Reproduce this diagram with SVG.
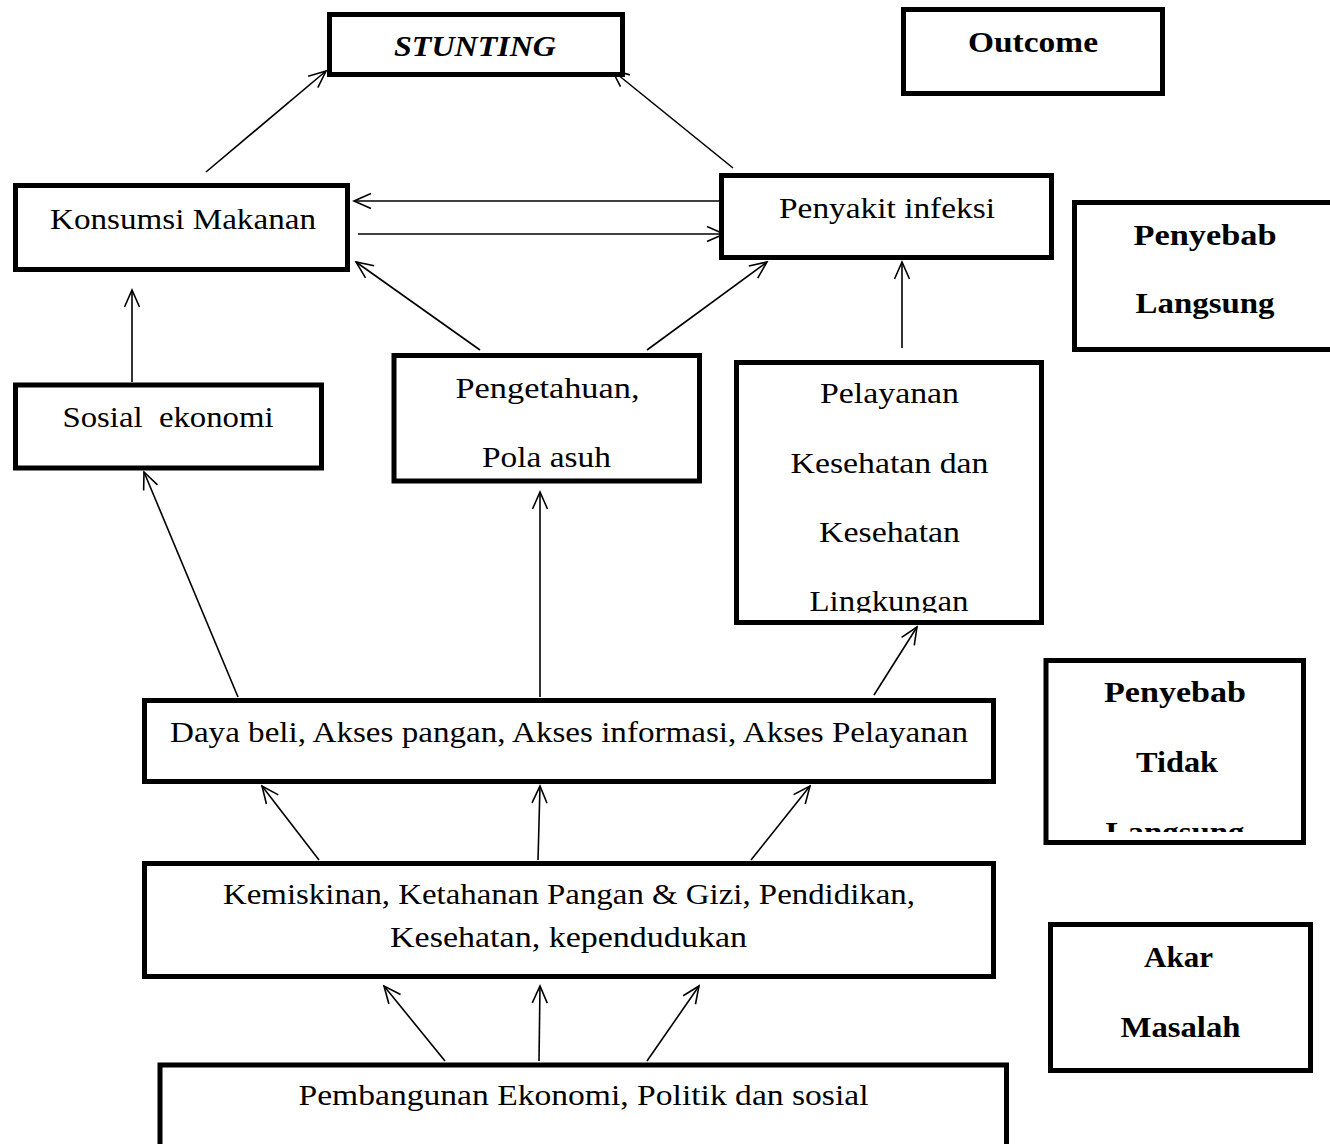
<svg xmlns="http://www.w3.org/2000/svg" width="1330" height="1144" viewBox="0 0 1330 1144">
<style>
.box{fill:#fff;stroke:#000;stroke-width:5}
.t{font-family:"Liberation Serif","Times New Roman",serif;font-size:30px;fill:#000;text-anchor:middle}
.b{font-weight:bold}
.c line{stroke:#000;stroke-width:1.6;fill:none;marker-end:url(#ah)}
</style>
<defs>
<marker id="ah" viewBox="-20 -10 22 20" refX="0" refY="0" markerUnits="userSpaceOnUse" markerWidth="22" markerHeight="20" orient="auto">
<path d="M-17,-7.5 L0,0 L-17,7.5" fill="none" stroke="#000" stroke-width="1.6"/>
</marker>
<clipPath id="clipL"><rect x="736" y="362" width="306" height="250.7"/></clipPath>
<clipPath id="clipT"><rect x="1046" y="660" width="258" height="172"/></clipPath>
</defs>
<rect width="1330" height="1144" fill="#fff"/>

<g class="c" id="connectors">
<line x1="206" y1="172" x2="326" y2="71"/>
<line x1="733" y1="168" x2="612" y2="70"/>
<line x1="720" y1="201" x2="354" y2="201"/>
<line x1="358" y1="234" x2="724" y2="234"/>
<line x1="480" y1="350" x2="356" y2="262"/>
<line x1="647" y1="350" x2="767" y2="262"/>
<line x1="902" y1="348" x2="902" y2="262"/>
<line x1="132" y1="382" x2="132" y2="290"/>
<line x1="238" y1="697" x2="144" y2="472"/>
<line x1="540" y1="697" x2="540" y2="492"/>
<line x1="874" y1="695" x2="917" y2="627"/>
<line x1="319" y1="860" x2="262" y2="786"/>
<line x1="538" y1="860" x2="540" y2="786"/>
<line x1="751" y1="860" x2="810" y2="786"/>
<line x1="445" y1="1061" x2="384" y2="986"/>
<line x1="539" y1="1061" x2="540" y2="986"/>
<line x1="647" y1="1061" x2="699" y2="986"/>
</g>

<g id="stunting">
<rect class="box" x="329.5" y="14.5" width="293" height="60"/>
<text class="t b" x="475" y="56" font-style="italic" font-size="32" textLength="162" lengthAdjust="spacingAndGlyphs">STUNTING</text>
</g>
<g id="outcome">
<rect class="box" x="903.5" y="9.5" width="259" height="84"/>
<text class="t b" x="1033" y="52" textLength="130" lengthAdjust="spacingAndGlyphs">Outcome</text>
</g>
<g id="konsumsi">
<rect class="box" x="15.5" y="185.5" width="332" height="84"/>
<text class="t" x="183" y="229" textLength="266" lengthAdjust="spacingAndGlyphs">Konsumsi Makanan</text>
</g>
<g id="penyakit">
<rect class="box" x="721.5" y="175.5" width="330" height="82"/>
<text class="t" x="887" y="218" textLength="216" lengthAdjust="spacingAndGlyphs">Penyakit infeksi</text>
</g>
<g id="penyebab-langsung">
<rect class="box" x="1074.5" y="202.5" width="270" height="147"/>
<text class="t b" x="1205" y="245" textLength="143" lengthAdjust="spacingAndGlyphs">Penyebab</text>
<text class="t b" x="1205" y="313" textLength="139" lengthAdjust="spacingAndGlyphs">Langsung</text>
</g>
<g id="sosial">
<rect class="box" x="15.5" y="385" width="306" height="83"/>
<text class="t" x="168" y="427" textLength="211" lengthAdjust="spacingAndGlyphs" xml:space="preserve">Sosial  ekonomi</text>
</g>
<g id="pengetahuan">
<rect class="box" x="394" y="355.5" width="305.5" height="125.5"/>
<text class="t" x="547.5" y="398" textLength="184" lengthAdjust="spacingAndGlyphs">Pengetahuan,</text>
<text class="t" x="546.5" y="467" textLength="129" lengthAdjust="spacingAndGlyphs">Pola asuh</text>
</g>
<g id="pelayanan">
<rect class="box" x="736.5" y="362.5" width="305" height="260"/>
<text class="t" x="889.5" y="403" textLength="139" lengthAdjust="spacingAndGlyphs">Pelayanan</text>
<text class="t" x="889.5" y="473" textLength="198" lengthAdjust="spacingAndGlyphs">Kesehatan dan</text>
<text class="t" x="889.5" y="542" textLength="141" lengthAdjust="spacingAndGlyphs">Kesehatan</text>
<text class="t" x="889" y="611" textLength="159" lengthAdjust="spacingAndGlyphs" clip-path="url(#clipL)">Lingkungan</text>
</g>
<g id="penyebab-tidak-langsung">
<rect class="box" x="1046" y="660.5" width="257.5" height="182"/>
<text class="t b" x="1175" y="702" textLength="142" lengthAdjust="spacingAndGlyphs">Penyebab</text>
<text class="t b" x="1177" y="772" textLength="82" lengthAdjust="spacingAndGlyphs">Tidak</text>
<text class="t b" x="1175" y="842" textLength="139" lengthAdjust="spacingAndGlyphs" clip-path="url(#clipT)">Langsung</text>
</g>
<g id="daya-beli">
<rect class="box" x="144.5" y="700.5" width="849" height="81"/>
<text class="t" x="569" y="742" textLength="798" lengthAdjust="spacingAndGlyphs">Daya beli, Akses pangan, Akses informasi, Akses Pelayanan</text>
</g>
<g id="kemiskinan">
<rect class="box" x="144.5" y="863.5" width="849" height="113"/>
<text class="t" x="569" y="904" textLength="692" lengthAdjust="spacingAndGlyphs">Kemiskinan, Ketahanan Pangan &amp; Gizi, Pendidikan,</text>
<text class="t" x="568.5" y="947" textLength="357" lengthAdjust="spacingAndGlyphs">Kesehatan, kependudukan</text>
</g>
<g id="akar-masalah">
<rect class="box" x="1050.5" y="924.5" width="260" height="146"/>
<text class="t b" x="1178.5" y="967" textLength="69" lengthAdjust="spacingAndGlyphs">Akar</text>
<text class="t b" x="1180.5" y="1037" textLength="120" lengthAdjust="spacingAndGlyphs">Masalah</text>
</g>
<g id="pembangunan">
<rect class="box" x="160" y="1065" width="846.5" height="100"/>
<text class="t" x="583.5" y="1105" textLength="570" lengthAdjust="spacingAndGlyphs">Pembangunan Ekonomi, Politik dan sosial</text>
</g>
</svg>
